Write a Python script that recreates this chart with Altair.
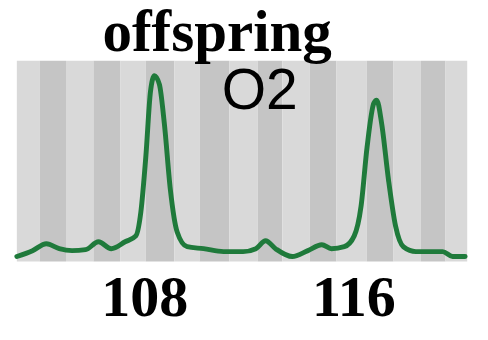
import altair as alt
import pandas as pd

# Trace (size in bp, signal in RFU-like units)
trace_bp = [103.13, 103.73, 104.26, 104.75, 105.24, 105.76, 106.25, 106.74, 107.27,
            107.68, 107.87, 108.06, 108.24, 108.39, 108.58, 108.77, 109.00, 109.26,
            109.64, 110.27, 111.03, 111.78, 112.27, 112.64, 113.02, 113.66, 114.26,
            114.79, 115.16, 115.65, 116.03, 116.29, 116.52, 116.78, 116.89, 117.08,
            117.34, 117.61, 117.91, 118.39, 119.41, 119.79, 120.27]
trace_rfu = [50, 110, 180, 130, 110, 120, 200, 130, 200,
             260, 500, 1060, 1730, 1890, 1800, 1400, 730, 300,
             150, 130, 100, 100, 130, 210, 130, 50, 110,
             170, 130, 150, 260, 560, 1160, 1610, 1640, 1400,
             830, 360, 150, 100, 100, 50, 50]

# Background bin stripes (bp)
stripe_edges = [103.13, 104.00, 105.01, 106.06, 107.08, 108.06, 109.15, 110.12, 111.25,
                112.34, 113.28, 114.33, 115.35, 116.51, 117.53, 118.58, 119.52, 120.35]
stripe_shades = ["light", "dark"] * 8 + ["light"]

tick_labels = [108, 116]
title_text = ["offspring"]
sample_text = ["O2"]

trace = pd.DataFrame({"bp": trace_bp, "rfu": trace_rfu})
stripes = pd.DataFrame({
    "start": stripe_edges[:-1],
    "end": stripe_edges[1:],
    "shade": stripe_shades,
})

x_scale = alt.Scale(domain=[103.13, 120.35], nice=False, zero=False)
y_scale = alt.Scale(domain=[0, 2040], nice=False, zero=False)

x_axis = alt.Axis(
    values=tick_labels, format="d", title=None,
    domain=False, ticks=False, grid=False,
    labelFont="Liberation Serif", labelFontSize=59, labelFontWeight="bold",
    labelColor="#000000", labelPadding=8, labelFlush=False,
)

bg = alt.Chart(stripes).mark_rect().encode(
    x=alt.X("start:Q", scale=x_scale, axis=x_axis),
    x2="end:Q",
    color=alt.Color("shade:N", scale=alt.Scale(domain=["light", "dark"],
                                               range=["#d9d9d9", "#c5c5c5"]),
                    legend=None),
)

line = alt.Chart(trace).mark_line(
    color="#1f7a3b", strokeWidth=5, interpolate="monotone",
    strokeCap="round", strokeJoin="round",
).encode(
    x=alt.X("bp:Q", scale=x_scale, axis=x_axis),
    y=alt.Y("rfu:Q", scale=y_scale, axis=None),
)

o2 = alt.Chart(pd.DataFrame({"t": sample_text})).mark_text(
    font="Liberation Sans", fontSize=58, color="#000000",
    align="center", baseline="alphabetic",
).encode(text="t:N", x=alt.value(247), y=alt.value(49))

ttl = alt.Chart(pd.DataFrame({"t": title_text})).mark_text(
    font="Liberation Serif", fontSize=60, fontWeight="bold", color="#000000",
    align="left", baseline="alphabetic",
).encode(text="t:N", x=alt.value(87), y=alt.value(-10))

chart = alt.layer(bg, line, o2, ttl).properties(
    width=458, height=204,
    autosize=alt.AutoSizeParams(type="none"),
    padding={"left": 9, "top": 51, "right": 13, "bottom": 69},
    background="#ffffff",
).configure_view(stroke=None)

chart.save("out.html", embed_options={"renderer": "svg", "actions": False})
